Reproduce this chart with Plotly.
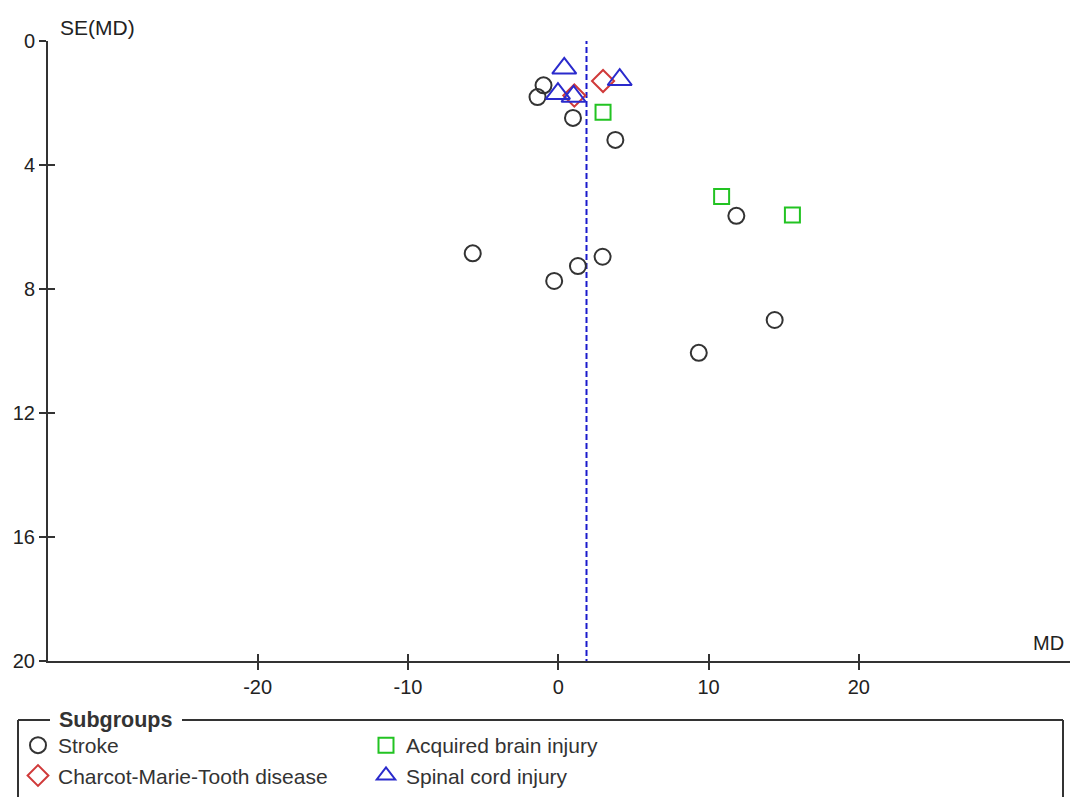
import plotly.graph_objects as go

# Funnel plot data: mean difference (MD) against its standard error, by subgroup
stroke_md = [-0.98, -1.38, 0.98, 3.80, 11.85, -5.69, -0.27, 1.31, 2.95, 14.40, 9.35]
stroke_se = [1.43, 1.81, 2.48, 3.19, 5.64, 6.85, 7.74, 7.26, 6.96, 9.00, 10.06]

abi_md = [2.98, 10.87, 15.58]
abi_se = [2.30, 5.02, 5.61]

cmt_md = [1.07, 2.98]
cmt_se = [1.76, 1.29]

sci_md = [0.40, -0.02, 1.02, 4.09]
sci_se = [0.88, 1.70, 1.79, 1.25]

pooled_md = 1.88

x_ticks = [-20, -10, 0, 10, 20]
x_tick_text = ["-20", "-10", "0", "10", "20"]
y_ticks = [0, 4, 8, 12, 16, 20]
x_range = [-33.95, 34.05]
y_range = [20, 0]

W, H = 1070, 797
ML, MR, MT, MB = 48, 0, 41, 136
FONT = "Liberation Sans, Arial, sans-serif"
AXIS_COLOR = "#333333"


def px_to_paper(px, py):
    """Convert page pixel position to paper coordinates of the plot area."""
    pw = W - ML - MR
    ph = H - MT - MB
    return (px - ML) / pw, (H - MB - py) / ph


fig = go.Figure()

groups = [
    ("Stroke", stroke_md, stroke_se, "circle-open", "#333333", 16, "legend"),
    ("Acquired brain injury", abi_md, abi_se, "square-open", "#22c322", 15, "legend2"),
    ("Charcot-Marie-Tooth disease", cmt_md, cmt_se, "diamond-open", "#d03a3a", 17, "legend"),
    ("Spinal cord injury", sci_md, sci_se, "triangle-up-open", "#2a2acc", 21, "legend2"),
]

for name, md, se, sym, col, size, leg in groups:
    fig.add_trace(go.Scatter(
        x=md, y=se, mode="markers", name=name, legend=leg,
        marker=dict(symbol=sym, size=size, color=col, line=dict(color=col, width=2)),
    ))

# empty trace so the overlay axes (inner tick halves) are drawn
fig.add_trace(go.Scatter(x=[], y=[], xaxis="x2", yaxis="y2", showlegend=False,
                         hoverinfo="skip"))

# Pooled estimate
fig.add_shape(type="line", xref="x", yref="y", x0=pooled_md, x1=pooled_md,
              y0=y_range[1] - 0.1, y1=y_range[0],
              line=dict(color="#1a1acc", width=2, dash="6px,3px"), layer="below")

axis_common = dict(showgrid=False, zeroline=False, ticklen=7, tickwidth=2,
                   tickcolor=AXIS_COLOR)

legend_common = dict(orientation="v", xanchor="left", yanchor="top",
                     y=px_to_paper(0, 725)[1],
                     font=dict(family=FONT, size=21, color="#333333"),
                     bgcolor="rgba(0,0,0,0)", borderwidth=0, tracegroupgap=0,
                     itemsizing="trace")

fig.update_layout(
    width=W, height=H,
    margin=dict(l=ML, r=MR, t=MT, b=MB, pad=0, autoexpand=False),
    paper_bgcolor="white", plot_bgcolor="white",
    font=dict(family=FONT, size=20, color="#222222"),
    xaxis=dict(range=x_range, tickvals=x_ticks, ticktext=x_tick_text,
               ticks="outside", showline=True, linewidth=2, linecolor=AXIS_COLOR,
               **axis_common),
    yaxis=dict(range=y_range, tickvals=y_ticks, ticks="outside", showline=True,
               linewidth=2, linecolor=AXIS_COLOR, **axis_common),
    xaxis2=dict(range=x_range, tickvals=x_ticks, ticks="inside", overlaying="x",
                anchor="y", showticklabels=False, showline=False, **axis_common),
    yaxis2=dict(range=y_range, tickvals=y_ticks, ticks="inside", overlaying="y",
                anchor="x", showticklabels=False, showline=False, **axis_common),
    legend=dict(x=px_to_paper(18, 0)[0], **legend_common),
    legend2=dict(x=px_to_paper(366, 0)[0], **legend_common),
    showlegend=True,
)

# Axis titles
sx, sy = px_to_paper(58, 27)
mx, my = px_to_paper(1066, 643)
fig.add_annotation(text="SE(MD)", xref="paper", yref="paper", x=sx, y=sy,
                   xanchor="left", yanchor="middle", showarrow=False,
                   font=dict(family=FONT, size=21, color="#222222"))
fig.add_annotation(text="MD", xref="paper", yref="paper", x=mx, y=my,
                   xanchor="right", yanchor="middle", showarrow=False,
                   font=dict(family=FONT, size=20, color="#222222"))

# Legend frame with the title set into the top border
x0, y0 = px_to_paper(18, 720)
x1, y1 = px_to_paper(1063, 810)
xg0, _ = px_to_paper(50, 720)
xg1, _ = px_to_paper(182, 720)
frame = dict(type="line", xref="paper", yref="paper",
             line=dict(color="#333333", width=2))
fig.add_shape(x0=x0, x1=xg0, y0=y0, y1=y0, **frame)
fig.add_shape(x0=xg1, x1=x1, y0=y0, y1=y0, **frame)
fig.add_shape(x0=x0, x1=x0, y0=y0, y1=y1, **frame)
fig.add_shape(x0=x1, x1=x1, y0=y0, y1=y1, **frame)
tx, ty = px_to_paper(57, 720)
fig.add_annotation(text="<b>Subgroups</b>", xref="paper", yref="paper", x=tx, y=ty,
                   xanchor="left", yanchor="middle", showarrow=False,
                   font=dict(family=FONT, size=21.5, color="#333333"))

fig.write_html("out.html")
